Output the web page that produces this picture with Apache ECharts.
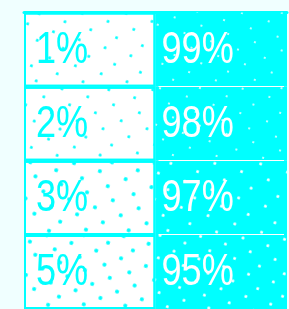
<!DOCTYPE html>
<html>
<head>
<meta charset="utf-8">
<style>
  html, body { margin: 0; padding: 0; background: #F0FFFF; }
  #chart { width: 289px; height: 309px; }
</style>
<script src="https://cdn.jsdelivr.net/npm/echarts@6/dist/echarts.min.js"></script>
</head>
<body>
<div id="chart"></div>
<script>
// ---- data ----
const rows = ['A', 'B', 'C', 'D'];
const lowPct = [1, 2, 3, 5];
const highPct = [99, 98, 97, 95];
const cellSpan = [1, 1, 1, 1];

const CYAN = '#00FFFF';
const FONT = '"Liberation Sans", Arial, sans-serif';

// dot decals (style only): staggered rows for a scattered look
const rowShifts = [0, 0.55, 0.2, 0.78, 0.38, 0.9, 0.12, 0.65];
function dotDecal(color, size, px, py) {
  return {
    symbol: 'circle',
    symbolSize: 1,
    color: color,
    dashArrayX: rowShifts.map(f => {
      const o = Math.round(f * (px - size));
      return o === 0 ? [size, px - size] : [0, o, size, px - o - size];
    }),
    dashArrayY: [size, py - size],
    rotation: 0.3
  };
}
const lowDecals = [
  dotDecal(CYAN, 2.2, 26, 12),
  dotDecal(CYAN, 2.6, 26, 12),
  dotDecal(CYAN, 3.2, 26, 11),
  dotDecal(CYAN, 4, 26, 11)
];
const highDecals = [
  dotDecal('#FFFFFF', 2, 28, 12),
  dotDecal('#FFFFFF', 2, 28, 12),
  dotDecal('#FFFFFF', 2.2, 27, 12),
  dotDecal('#FFFFFF', 3, 26, 11)
];

const chart = echarts.init(document.getElementById('chart'), null, { renderer: 'canvas' });
chart.setOption({
  backgroundColor: '#F0FFFF',
  animation: false,
  grid: { left: 24, right: 2, top: 12.5, bottom: -4, containLabel: false },
  xAxis: {
    type: 'value', min: 0, max: 2, position: 'top',
    axisLine: { show: true, lineStyle: { color: CYAN, width: 3 } },
    axisTick: { show: false }, axisLabel: { show: false }, splitLine: { show: false }
  },
  yAxis: {
    type: 'category', data: rows, inverse: true, offset: -1.5,
    axisLine: { show: true, lineStyle: { color: CYAN, width: 3 } },
    axisTick: { show: false }, axisLabel: { show: false }, splitLine: { show: false }
  },
  series: [
    {
      type: 'bar', stack: 's', barCategoryGap: 0,
      data: cellSpan.map((v, i) => ({
        value: v,
        itemStyle: { color: '#FFFFFF', borderColor: CYAN, borderWidth: 2, decal: lowDecals[i] }
      }))
    },
    {
      type: 'bar', stack: 's', barCategoryGap: 0,
      data: cellSpan.map((v, i) => ({
        value: v,
        itemStyle: { color: CYAN, borderWidth: 0, decal: highDecals[i] }
      }))
    },
    {
      // row separators in the right column
      type: 'custom',
      data: [[0], [1], [2]],
      z: 5,
      renderItem: function (params, api) {
        const i = api.value(0);
        const p1 = api.coord([1, i]);
        const p2 = api.coord([2, i]);
        const h = api.size([0, 1])[1];
        const y = Math.round(p1[1] + h / 2) - 0.5;
        return {
          type: 'line',
          shape: { x1: p1[0] + 3, y1: y, x2: p2[0] - 3, y2: y },
          style: { stroke: '#FFFFFF', lineWidth: 1 }
        };
      }
    },
    {
      // percentage labels (narrow text)
      type: 'custom',
      data: rows.map((r, i) => [i, lowPct[i], highPct[i]]),
      z: 10,
      renderItem: function (params, api) {
        const i = api.value(0);
        const pL = api.coord([0, i]);
        const pR = api.coord([1, i]);
        return {
          type: 'group',
          children: [
            {
              type: 'text', x: pL[0] + 12, y: pL[1] + 1, scaleX: 0.82,
              style: { text: api.value(1) + '%', fill: CYAN, fontSize: 44, fontFamily: FONT, textAlign: 'left', textVerticalAlign: 'middle' }
            },
            {
              type: 'text', x: pR[0] + 6, y: pR[1] + 1, scaleX: 0.82,
              style: { text: api.value(2) + '%', fill: '#FFFFFF', fontSize: 44, fontFamily: FONT, textAlign: 'left', textVerticalAlign: 'middle' }
            }
          ]
        };
      }
    }
  ]
});
</script>
</body>
</html>
